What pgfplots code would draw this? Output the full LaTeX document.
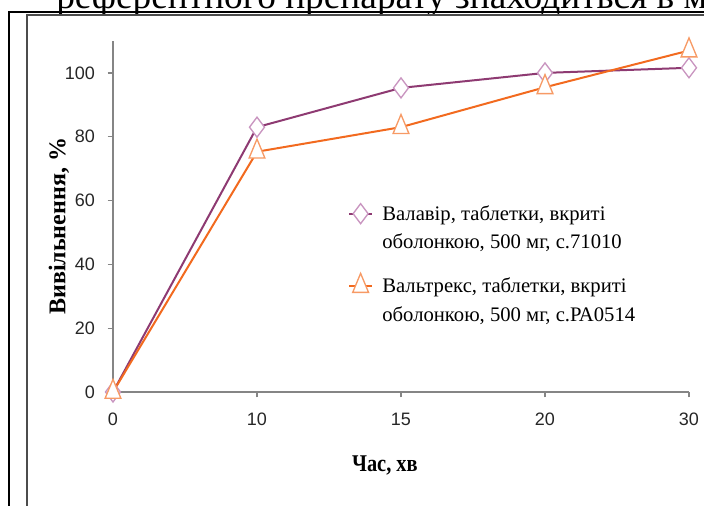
\documentclass[border=0pt]{standalone}
\usepackage{fontspec}
\setmainfont{Liberation Serif}
\newfontfamily\arialf{Liberation Sans}
\newfontfamily\labelf[FakeStretch=0.85]{Liberation Serif}
\usepackage{pgfplots}
\pgfplotsset{compat=1.18}
\definecolor{valavir}{HTML}{8E3A72}
\definecolor{valavirmk}{HTML}{C995C0}
\definecolor{valtrex}{HTML}{F26A1F}
\definecolor{valtrexmk}{HTML}{F79A65}
\definecolor{axgray}{HTML}{858585}
\begin{document}
\begin{tikzpicture}
\begin{scope}[x=0.75pt,y=0.75pt]
\useasboundingbox (0,0) rectangle (704,506);
\clip (0,0) rectangle (704,506);
% top text (cut)
\node[anchor=base west,inner sep=0pt,font=\fontsize{28}{31}\selectfont] at (56,497) {референтного препарату знаходиться в межах};
% outer black frame
\draw[black,line width=1.6pt] (9,-10) -- (9,494) -- (720,494);
% inner gray frame
\draw[black!70,line width=1.5pt] (27,-10) -- (27,491) -- (720,491);
\end{scope}
\begin{axis}[
  at={(84.75pt,85.5pt)}, anchor=south west,
  scale only axis, width=432pt, height=263.25pt,
  xmin=0, xmax=4, ymin=0, ymax=110,
  axis x line=bottom, axis y line=left,
  axis line style={axgray,line width=0.9pt,-},
  xtick={0,1,2,3,4}, xticklabels={0,10,15,20,30},
  ytick={0,20,40,60,80,100},
  tick align=outside, major tick length=4pt,
  tick style={axgray,line width=0.9pt},
  ticklabel style={font=\arialf\fontsize{13.5}{16}\selectfont,text=black!85},
  /pgf/number format/assume math mode=true,
  xticklabel style={yshift=-8pt},
  yticklabel style={xshift=-6pt},
  xlabel={\textbf{Час, хв}},
  ylabel={\textbf{Вивільнення, \%}},
  xlabel style={font=\labelf\fontsize{18}{20}\selectfont,at={(axis description cs:0.472,-0.21)},anchor=center},
  ylabel style={font=\fontsize{18}{20}\selectfont,at={(axis description cs:-0.094,0.472)},anchor=center},
  clip=false,
  legend style={at={(axis description cs:0.401,0.548)},anchor=north west,draw=none,fill=none,
    font=\fontsize{15.5}{21.5}\selectfont, row sep=15pt, cells={align=left},
    nodes={inner xsep=7pt}},
  legend cell align=left,
]
\addplot[valavir,line width=1.5pt,mark=diamond*,mark size=7.5pt,
  mark options={draw=valavirmk,fill=white,line width=1pt},
  legend image post style={yshift=10.75pt}]
  coordinates {(0,0) (1,83) (2,95.3) (3,100) (4,101.6)};
\addlegendentry{Валавір, таблетки, вкриті\\оболонкою, 500 мг, с.71010}
\addplot[valtrex,line width=1.5pt,mark=triangle*,mark size=9.5pt,
  mark options={draw=valtrexmk,fill=white,line width=1pt,xscale=0.72},
  legend image post style={yshift=10.75pt}]
  coordinates {(0,0) (1,75.3) (2,83) (3,95.5) (4,107)};
\addlegendentry{Вальтрекс, таблетки, вкриті\\оболонкою, 500 мг, с.РА0514}
\end{axis}
\end{tikzpicture}
\end{document}
